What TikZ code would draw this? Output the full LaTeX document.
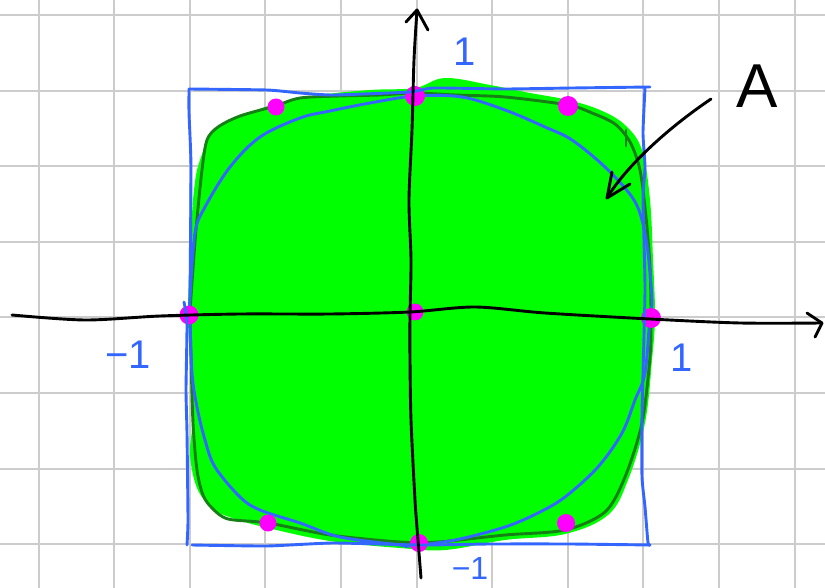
\documentclass[tikz,border=0pt]{standalone}
\usepackage{fontspec}
\setmainfont{Liberation Sans}
\usetikzlibrary{arrows.meta}
\definecolor{gridgray}{RGB}{204,204,204}
\definecolor{penblue}{RGB}{51,102,255}
\definecolor{brightgreen}{RGB}{0,255,0}
\definecolor{inkgreen}{RGB}{22,128,22}
\definecolor{dotmagenta}{RGB}{255,0,255}
\begin{document}
\begin{tikzpicture}[x=1pt,y=-1pt,line cap=round,line join=round,
  gridline/.style={gridgray,line width=2pt},
  bluepen/.style={penblue,line width=2.9pt},
  greenpen/.style={inkgreen,line width=2.9pt},
  blackpen/.style={black,line width=2.9pt},
  dotstyle/.style={fill=dotmagenta},
  bluelabel/.style={penblue,inner sep=0pt,font=\fontsize{40}{40}\selectfont},
  blacklabel/.style={black,inner sep=0pt,font=\fontsize{62}{62}\selectfont}]
\useasboundingbox (0,0) rectangle (825,588);
\fill[white] (0,0) rectangle (825,588);
% grid
\foreach \k in {0,...,10} \draw[gridline] ({38.5+75.6*\k},0) -- ({38.5+75.6*\k},588);
\foreach \k in {0,...,7} \draw[gridline] (0,{15+75.6*\k}) -- (825,{15+75.6*\k});
% green fill
\fill[brightgreen] plot[smooth cycle,tension=0.6] coordinates {
 (415,88) (445,78) (490,85) (530,93) (568,100) (600,110) (625,125) (642,150)
 (650,200) (653,260) (655,316) (652,360) (645,423) (628,480) (608,515) (565,534)
 (505,540) (445,550) (400,548) (330,541) (268,528) (232,518) (212,508) (197,488)
 (190,455) (192,423) (190,357) (188,316) (190,250) (194,190) (200,160) (214,131)
 (240,117) (275,104) (320,95) (370,90)};
% dark green boundary
\draw[greenpen] plot[smooth cycle,tension=0.5] coordinates {
 (415,93) (455,95) (505,97) (568,105) (592,113) (615,124) (630,142) (640,170)
 (646,217) (650,267) (651,316) (650,357) (642,423) (625,477) (605,512) (565,530)
 (505,535) (438,542) (400,542) (330,535) (268,523) (228,519) (212,508) (203,495)
 (197,470) (193,423) (191,357) (190,316) (191,297) (196,230) (202,170) (207,140)
 (218,127) (240,116) (275,106) (300,98) (340,96) (380,95)};
\draw[greenpen] (626,130) -- (626,146);
% blue inner curve
\draw[bluepen] plot[smooth cycle,tension=0.55] coordinates {
 (415,96) (462,97) (505,110) (545,127) (572,140) (605,167) (632,197) (642,220)
 (648,253) (652,300) (650,316) (645,373) (635,400) (622,433) (598,467) (565,497)
 (538,513) (505,527) (455,540) (410,546) (400,545) (340,537) (300,523) (260,510)
 (240,497) (215,467) (205,440) (197,407) (192,373) (190,316) (190,297) (195,233)
 (205,207) (230,167) (260,137) (300,118) (330,111) (370,103)};
% magenta dots
\fill[dotstyle] (415,96) circle[radius=10];
\fill[dotstyle] (568,106) circle[radius=10];
\fill[dotstyle] (276,107) circle[radius=8.5];
\fill[dotstyle] (189,315) circle[radius=9.5];
\fill[dotstyle] (415,312) circle[radius=8.5];
\fill[dotstyle] (651,318) circle[radius=10];
\fill[dotstyle] (268,523) circle[radius=8.5];
\fill[dotstyle] (566,523) circle[radius=9];
\fill[dotstyle] (419,543) circle[radius=9];
% blue rectangle
\draw[bluepen] plot[smooth,tension=0.3] coordinates {
 (189,89) (267,90) (300,93) (333,95) (410,92) (433,88) (505,89) (572,88) (650,87)};
\draw[bluepen] plot[smooth,tension=0.3] coordinates {
 (645,88) (643,133) (645,167) (643,200) (645,290) (642,413) (642,477) (645,507) (648,543) (650,545)};
\draw[bluepen] plot[smooth,tension=0.3] coordinates {
 (650,545) (570,544) (490,544) (420,545) (333,543) (267,546) (192,545)};
\draw[bluepen] plot[smooth,tension=0.3] coordinates {
 (187,545) (188,520) (187,433) (186,390) (187,323) (184,302)};
\draw[bluepen] plot[smooth,tension=0.3] coordinates {
 (190,297) (191,167) (189,113) (189,89)};
% axes
\coordinate (xstart) at (12,315);
\coordinate (xend) at (822,323);
\coordinate (ystart) at (421,578);
\coordinate (yend) at (417,10);
\draw[blackpen] plot[smooth,tension=0.5] coordinates {
 (xstart) (85,320) (160,316) (240,314) (330,314) (410,312) (475,307) (545,313)
 (650,319) (740,323) (xend)};
\draw[blackpen] (807,313) -- (xend) -- (815,337);
\draw[blackpen] plot[smooth,tension=0.5] coordinates {
 (ystart) (418,540) (415,500) (411,420) (410,360) (410,316) (411,260) (409,200)
 (412,130) (414,60) (yend)};
\draw[blackpen] (406,22) -- (yend) -- (428,30);
% pointer to A
\coordinate (pstart) at (711,99);
\coordinate (ptip) at (607,198);
\draw[blackpen] (pstart) .. controls (665,130) and (625,168) .. (ptip);
\draw[blackpen] (612,172) -- (ptip) -- (630,184);
% labels
\node[blacklabel] (labelA) at (757,86) {A};
\node[bluelabel] (ytop) at (465,52) {1};
\node[bluelabel] (xright) at (682,358) {1};
\node[bluelabel] (xleft) at (128,355) {−1};
\node[bluelabel,font=\fontsize{32}{32}\selectfont] (ybottom) at (470,568) {−1};
\end{tikzpicture}
\end{document}
